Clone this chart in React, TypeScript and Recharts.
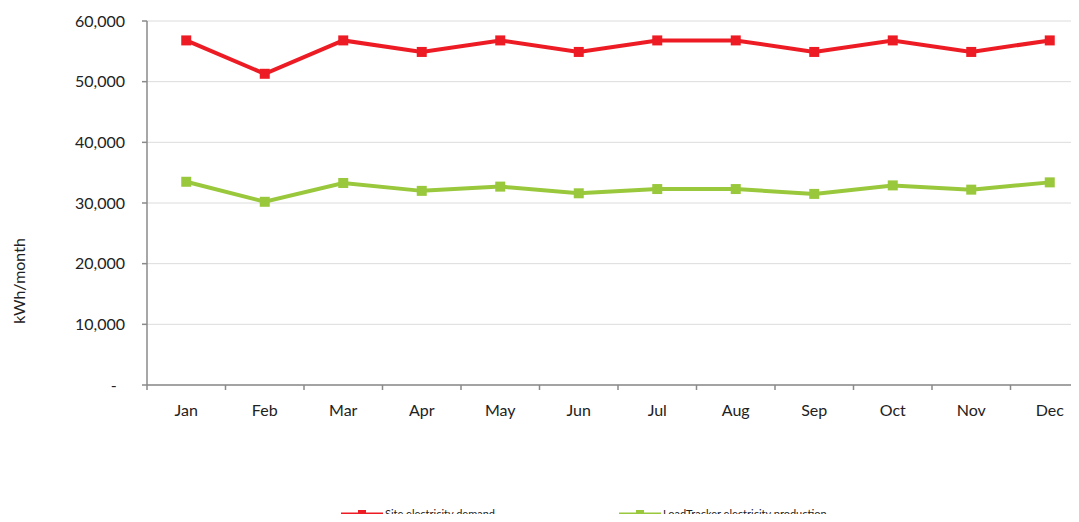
import React from 'react';
import { LineChart, Line, XAxis, YAxis, CartesianGrid, Legend } from 'recharts';

const months = ['Jan', 'Feb', 'Mar', 'Apr', 'May', 'Jun', 'Jul', 'Aug', 'Sep', 'Oct', 'Nov', 'Dec'];
const siteDemand = [56800, 51300, 56800, 54900, 56800, 54900, 56800, 56800, 54900, 56800, 54900, 56800];
const loadTrackerProduction = [33500, 30200, 33300, 32000, 32700, 31600, 32300, 32300, 31500, 32900, 32200, 33400];
const yTicks = [0, 10000, 20000, 30000, 40000, 50000, 60000];
const seriesNames = { demand: 'Site electricity demand', production: 'LoadTracker electricity production' };

const data = months.map((m, i) => ({ month: m, demand: siteDemand[i], production: loadTrackerProduction[i] }));

const RED = '#ED1C24';
const GREEN = '#9AC83C';
const AXIS = '#8A8A8A';
const FONT = 'Lato, "Open Sans", sans-serif';

const CHART_W = 1089;
const CHART_H = 522;
const Y_AXIS_W = 147;
const BAND = (CHART_W - Y_AXIS_W) / months.length;

const fmt = (v: number) => (v === 0 ? '-\u00A0\u00A0' : v.toLocaleString('en-US'));

const SquareDot = (color: string) => (props: any) => {
  const { cx, cy, index } = props;
  if (cx == null || cy == null) return <g key={index} />;
  return <rect key={index} x={cx - 5} y={cy - 5} width={10} height={10} fill={color} />;
};

const XTick = (props: any) => {
  const { x, y, payload } = props;
  const bx = x - BAND / 2;
  return (
    <g>
      <line x1={bx} y1={y} x2={bx} y2={y + 5} stroke={AXIS} strokeWidth={1.5} />
      <text x={x} y={y + 31} textAnchor="middle" fill="#222" fontSize={16} fontFamily={FONT}>
        {payload.value}
      </text>
    </g>
  );
};

const YLabel = (props: any) => {
  const { viewBox } = props;
  const x = 18;
  const y = viewBox.y + viewBox.height / 2 + 78;
  return (
    <text x={x} y={y} transform={`rotate(-90 ${x} ${y})`} textAnchor="middle" dominantBaseline="central" fill="#222" fontSize={16} fontFamily={FONT}>
      kWh/month
    </text>
  );
};

const order = [seriesNames.demand, seriesNames.production];

const LegendContent = (props: any) => {
  const payload = [...(props.payload || [])].sort((a: any, b: any) => order.indexOf(a.value) - order.indexOf(b.value));
  return (
    <div style={{ display: 'flex', alignItems: 'center', height: 16, lineHeight: '16px', fontFamily: FONT, fontSize: 11, color: '#222' }}>
      {payload.map((item: any, i: number) => (
        <div key={i} style={{ display: 'flex', alignItems: 'center', width: i === 0 ? 278 : 'auto', whiteSpace: 'nowrap' }}>
          <svg width={42} height={10} style={{ display: 'block' }}>
            <line x1={0} y1={5} x2={42} y2={5} stroke={item.color} strokeWidth={3} />
            <rect x={17} y={1} width={8} height={8} fill={item.color} />
          </svg>
          <span style={{ marginLeft: 2 }}>{item.value}</span>
        </div>
      ))}
    </div>
  );
};

export default function App() {
  return (
    <div style={{ margin: -8, width: 1079, height: 522, overflow: 'hidden', background: '#fff', position: 'relative' }}>
      <LineChart width={CHART_W} height={CHART_H} data={data} margin={{ top: 21, right: 0, left: 0, bottom: 0 }}>
        <CartesianGrid vertical={false} stroke="#DCDCDC" strokeWidth={1} />
        <XAxis
          dataKey="month"
          axisLine={{ stroke: AXIS, strokeWidth: 1.5 }}
          tickLine={false}
          tickSize={0}
          tickMargin={0}
          height={121}
          interval={0}
          padding={{ left: BAND / 2, right: BAND / 2 }}
          tick={<XTick />}
        />
        <YAxis
          domain={[0, 60000]}
          ticks={yTicks}
          tickFormatter={fmt}
          width={Y_AXIS_W}
          axisLine={{ stroke: AXIS, strokeWidth: 1.5 }}
          tickLine={{ stroke: AXIS, strokeWidth: 1.5 }}
          tickSize={5}
          tickMargin={17}
          tick={{ fill: '#222', fontSize: 16, fontFamily: FONT }}
          label={<YLabel />}
        />
        <Legend
          verticalAlign="bottom"
          content={<LegendContent />}
          wrapperStyle={{ position: 'absolute', left: 341, top: 506, bottom: 'auto', width: 'auto', height: 16 }}
        />
        <Line
          type="linear"
          dataKey="demand"
          name={seriesNames.demand}
          stroke={RED}
          strokeWidth={4}
          dot={SquareDot(RED)}
          activeDot={false}
          isAnimationActive={false}
        />
        <Line
          type="linear"
          dataKey="production"
          name={seriesNames.production}
          stroke={GREEN}
          strokeWidth={4}
          dot={SquareDot(GREEN)}
          activeDot={false}
          isAnimationActive={false}
        />
      </LineChart>
    </div>
  );
}
